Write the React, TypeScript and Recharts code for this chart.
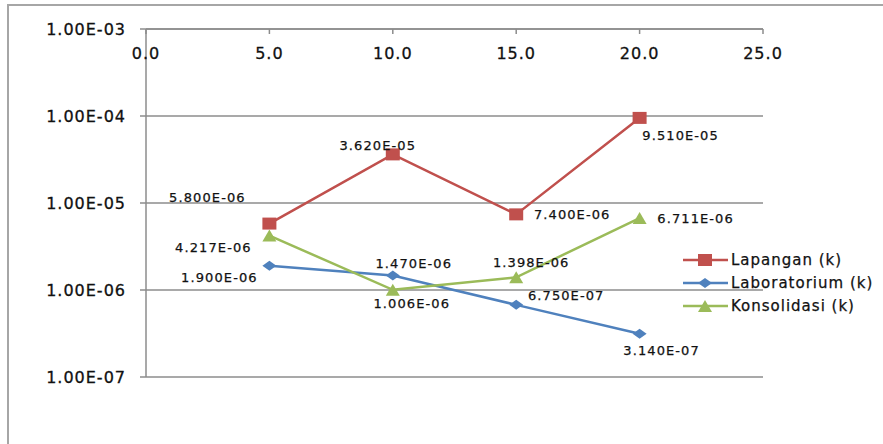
import React from "react";
import {
  LineChart,
  Line,
  XAxis,
  YAxis,
  CartesianGrid,
  Legend,
  LabelList,
} from "recharts";

// values
const depths = [5, 10, 15, 20];
const lapangan = [5.8e-6, 3.62e-5, 7.4e-6, 9.51e-5];
const laboratorium = [1.9e-6, 1.47e-6, 6.75e-7, 3.14e-7];
const konsolidasi = [4.217e-6, 1.006e-6, 1.398e-6, 6.711e-6];

const xTicks = [0, 5, 10, 15, 20, 25];
const yTicks = [1e-7, 1e-6, 1e-5, 1e-4, 1e-3];

const seriesNames = ["Lapangan (k)", "Laboratorium (k)", "Konsolidasi (k)"];

const data = depths.map((d, i) => ({
  x: d,
  lapangan: lapangan[i],
  laboratorium: laboratorium[i],
  konsolidasi: konsolidasi[i],
}));

// where each data label sits relative to its point (dx, dy)
const labelOffsets: Record<string, [number, number][]> = {
  lapangan: [[-62, -26], [-15, -9], [56, 0], [41, 18]],
  laboratorium: [[-50, 12], [21, -12], [50, -9], [22, 17]],
  konsolidasi: [[-56, 12], [19, 14], [15, -15], [56, 0]],
};

const RED = "#C0504D";
const BLUE = "#4F81BD";
const GREEN = "#9BBB59";
const FONT = "DejaVu Sans";
const PLOT_TOP = 29;

const sci = (v: number, digits: number) => {
  const [m, e] = v.toExponential(digits).split("e");
  const n = Math.abs(parseInt(e, 10));
  const sign = e.startsWith("-") ? "-" : "+";
  return `${m}E${sign}${n < 10 ? "0" + n : n}`;
};

const Square = ({ cx, cy, color }: any) => (
  <rect x={cx - 7} y={cy - 6} width={14} height={12} fill={color} />
);
const Diamond = ({ cx, cy, color }: any) => (
  <polygon points={`${cx - 7},${cy} ${cx},${cy - 5} ${cx + 7},${cy} ${cx},${cy + 5}`} fill={color} />
);
const Triangle = ({ cx, cy, color }: any) => (
  <polygon points={`${cx - 7},${cy + 6} ${cx},${cy - 6} ${cx + 7},${cy + 6}`} fill={color} />
);

const markerFor = (key: string) =>
  key === "lapangan" ? Square : key === "laboratorium" ? Diamond : Triangle;

const makeDot = (key: string, color: string) => (props: any) => {
  const M = markerFor(key);
  if (props.cx == null || props.cy == null) return <g key={`d-${key}-${props.index}`} />;
  return (
    <g key={`d-${key}-${props.index}`}>
      <M cx={props.cx} cy={props.cy} color={color} />
    </g>
  );
};

const makeLabel = (key: string) => (p: any) => {
  const x = p.viewBox?.x ?? p.x;
  const y = p.viewBox?.y ?? p.y;
  const [dx, dy] = labelOffsets[key][p.index] || [0, 0];
  return (
    <text
      x={x + dx}
      y={y + dy}
      textAnchor="middle"
      dominantBaseline="central"
      fontFamily={FONT}
      fontSize={13}
      letterSpacing={1.1}
      stroke="#111"
      strokeWidth={0.25}
      fill="#111"
    >
      {sci(p.value, 3)}
    </text>
  );
};

const XTick = (p: any) => (
  <g>
    <line x1={p.x} y1={PLOT_TOP} x2={p.x} y2={PLOT_TOP + 5} stroke="#8c8c8c" strokeWidth={1.5} />
    <text
      x={p.x}
      y={PLOT_TOP + 30}
      textAnchor="middle"
      fontFamily={FONT}
      fontSize={16}
      letterSpacing={1}
      stroke="#111"
      strokeWidth={0.3}
      fill="#111"
    >
      {Number(p.payload.value).toFixed(1)}
    </text>
  </g>
);

const legendItems = [
  { key: "lapangan", color: RED },
  { key: "laboratorium", color: BLUE },
  { key: "konsolidasi", color: GREEN },
];

const LegendBox = () => (
  <div style={{ fontFamily: FONT, fontSize: 15, color: "#111", letterSpacing: 1, WebkitTextStroke: "0.25px #111" }}>
    {legendItems.map((it, i) => {
      const M = markerFor(it.key);
      return (
        <div key={it.key} style={{ display: "flex", alignItems: "center", height: 23 }}>
          <svg width={46} height={16} style={{ marginRight: 2 }}>
            <line x1={0} y1={8} x2={45} y2={8} stroke={it.color} strokeWidth={2.5} />
            <M cx={22} cy={8} color={it.color} />
          </svg>
          <span>{seriesNames[i]}</span>
        </div>
      );
    })}
  </div>
);

export default function App() {
  return (
    <div style={{ position: "absolute", left: 0, top: 0, width: 883, height: 444, overflow: "hidden", background: "#fff" }}>
      <div
        style={{
          position: "absolute",
          left: 7,
          top: 4,
          width: 900,
          height: 500,
          border: "2px solid #a6a6a6",
        }}
      />
      <div style={{ position: "absolute", left: 0, top: 0 }}>
        <LineChart width={883} height={444} data={data} margin={{ top: 0, right: 120, left: 0, bottom: 67 }}>
          <CartesianGrid vertical={false} stroke="#8c8c8c" strokeWidth={1.5} />
          <XAxis
            dataKey="x"
            type="number"
            orientation="top"
            domain={[0, 25]}
            ticks={xTicks}
            height={29}
            tickLine={false}
            tickSize={0}
            axisLine={{ stroke: "#8c8c8c", strokeWidth: 1.5 }}
            tick={<XTick />}
            interval={0}
          />
          <YAxis
            type="number"
            scale="log"
            domain={[1e-7, 1e-3]}
            ticks={yTicks}
            allowDataOverflow
            width={146}
            interval={0}
            tickSize={6}
            tickMargin={14}
            tickLine={{ stroke: "#8c8c8c", strokeWidth: 1.5 }}
            axisLine={{ stroke: "#8c8c8c", strokeWidth: 1.5 }}
            tick={{ fontFamily: FONT, fontSize: 16, fill: "#111", letterSpacing: 1, stroke: "#111", strokeWidth: 0.3 }}
            tickFormatter={(v: number) => sci(v, 2)}
          />
          <Legend
            layout="vertical"
            align="center"
            verticalAlign="middle"
            content={<LegendBox />}
            wrapperStyle={{ left: 683, top: 248, width: 200 }}
          />
          <Line
            dataKey="lapangan"
            name={seriesNames[0]}
            stroke={RED}
            strokeWidth={2.5}
            dot={makeDot("lapangan", RED)}
            activeDot={false}
            isAnimationActive={false}
          >
            <LabelList dataKey="lapangan" content={makeLabel("lapangan")} />
          </Line>
          <Line
            dataKey="laboratorium"
            name={seriesNames[1]}
            stroke={BLUE}
            strokeWidth={2.5}
            dot={makeDot("laboratorium", BLUE)}
            activeDot={false}
            isAnimationActive={false}
          >
            <LabelList dataKey="laboratorium" content={makeLabel("laboratorium")} />
          </Line>
          <Line
            dataKey="konsolidasi"
            name={seriesNames[2]}
            stroke={GREEN}
            strokeWidth={2.5}
            dot={makeDot("konsolidasi", GREEN)}
            activeDot={false}
            isAnimationActive={false}
          >
            <LabelList dataKey="konsolidasi" content={makeLabel("konsolidasi")} />
          </Line>
        </LineChart>
      </div>
    </div>
  );
}
